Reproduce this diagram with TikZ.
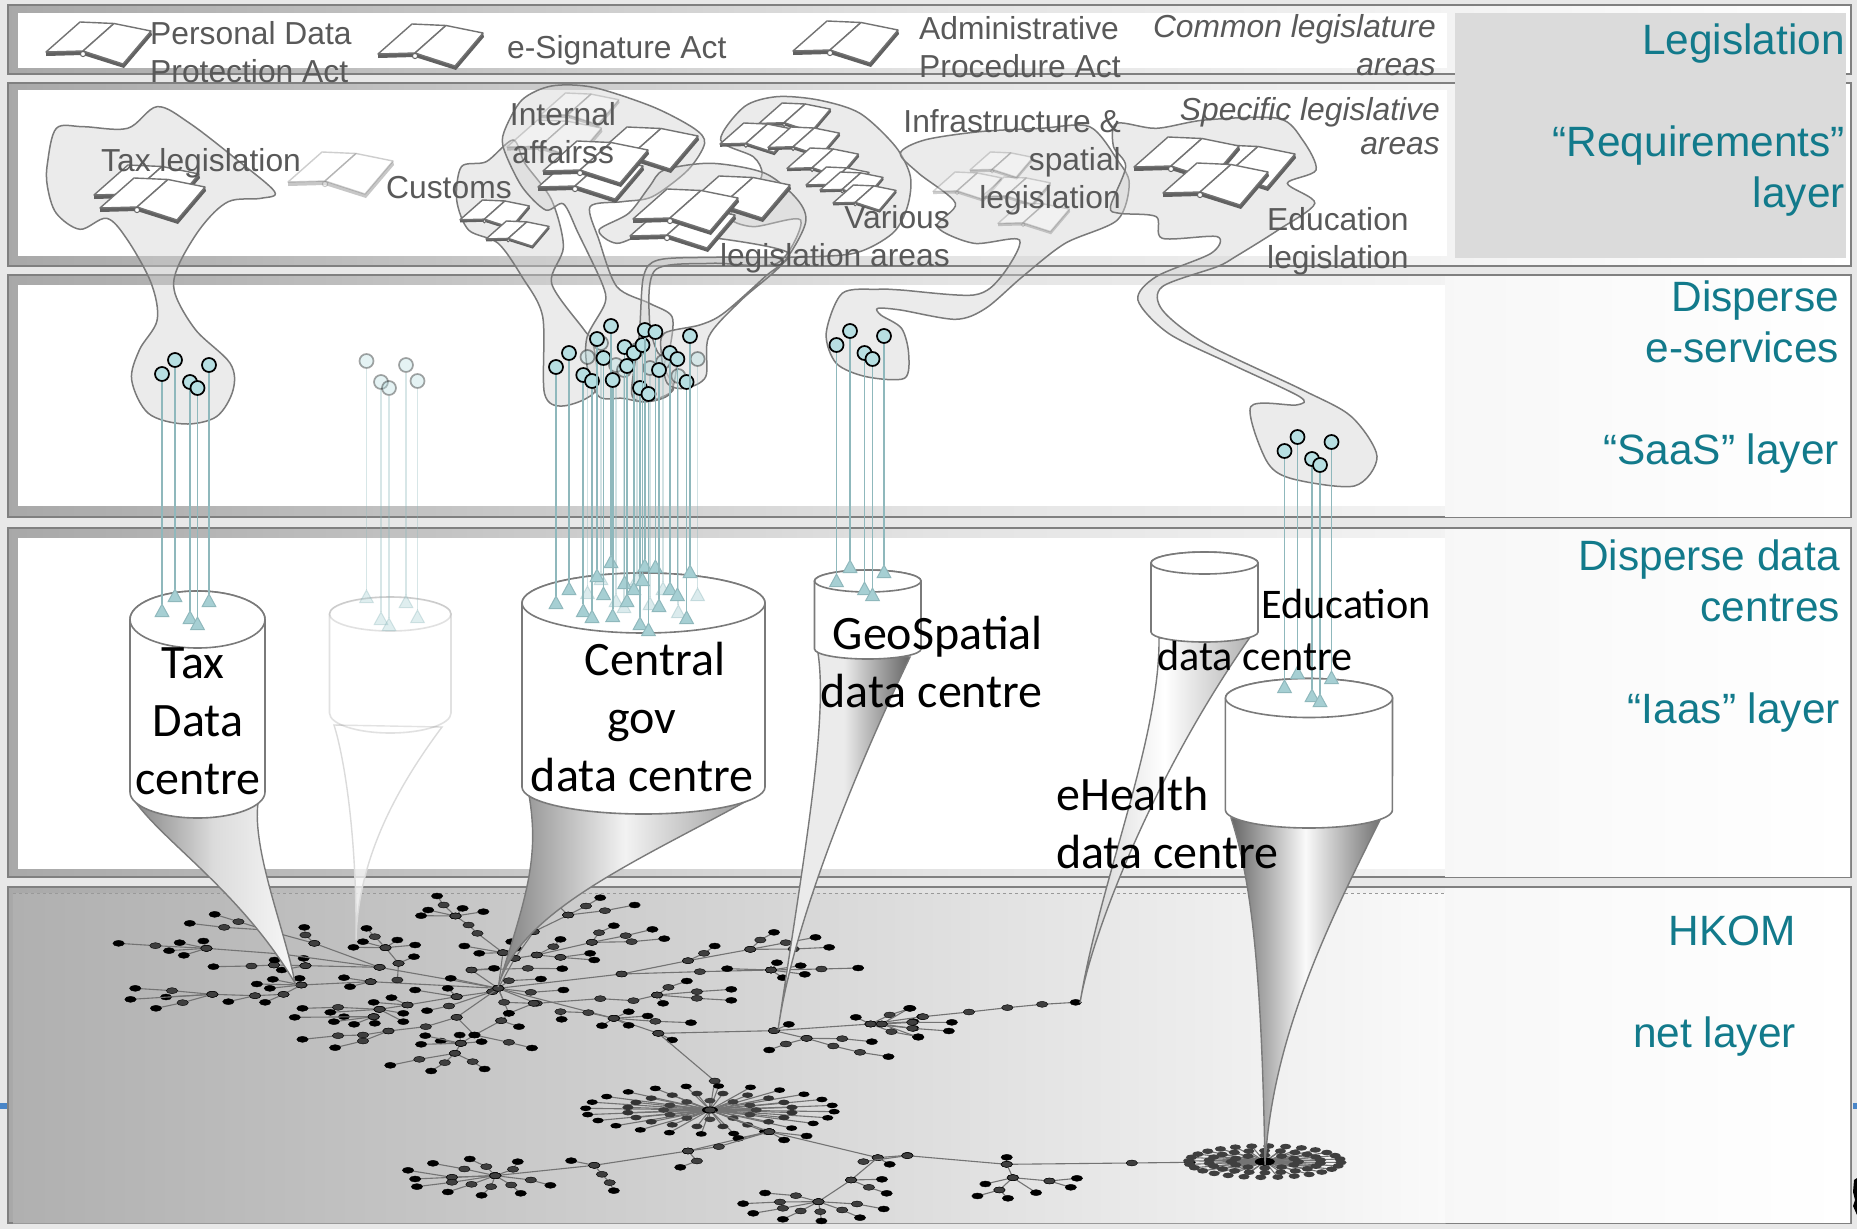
\documentclass[tikz,border=0pt]{standalone}
\usepackage{fontspec}
\setmainfont{Liberation Sans}
\newfontfamily\calib{Carlito}
\usetikzlibrary{arrows.meta}
\definecolor{lblgray}{HTML}{595959}
\definecolor{teallbl}{HTML}{127A8B}
\definecolor{stemcol}{HTML}{8FB8BC}
\definecolor{stemfil}{HTML}{A6CFD3}
\definecolor{svcfil}{HTML}{B7DFE2}
\definecolor{netg}{HTML}{3F3F3F}
\definecolor{markblue}{HTML}{4A86C8}
\tikzset{
  framebox/.style={draw=black!50,line width=2pt,left color=black!34,right color=white,middle color=black!11},
  innerwhite/.style={fill=white,draw=none},
  blob/.style={draw=black!52,line width=1.5pt,fill=black!18,fill opacity=.42},
  cyl/.style={draw=black!52,line width=1.6pt,fill=white},
  funnel/.style={draw=black!52,line width=1.4pt},
  svc/.style={circle,minimum size=14pt,inner sep=0pt,draw=black,line width=1.7pt,fill=svcfil},
  stemline/.style={draw=stemcol,line width=1.7pt,-{Triangle[reversed,width=15pt,length=14pt,fill=stemfil,color=stemcol,line width=1pt]}},
  grlbl/.style={text=lblgray,inner sep=0pt,font=\fontsize{31.8}{38}\selectfont},
  tllbl/.style={text=teallbl,inner sep=0pt,align=right,anchor=north east,font=\fontsize{42.4}{51}\selectfont},
  bklbl/.style={text=black,inner sep=0pt,font=\calib\fontsize{48}{58}\selectfont},
  netedge/.style={draw=black!55,line width=1.1pt},
  zone/.style={x=.5931pt,y=-.3333pt},
  ztwo/.style={x=.61pt,y=-.3333pt,shift={(900pt,0pt)}},
  zthree/.style={x=.5931pt,y=-.3333pt,shift={(0pt,-880pt)}},
  zfour/.style={x=.61pt,y=-.3333pt,shift={(900pt,-880pt)}},
  bookicon/.pic={
    \fill[black!62] (0,30)--(37,29)--(77,42)--(105,9)--(106,13)--(78,46)--(37,33)--(0,34)--cycle;
    \draw[draw=black!55,line width=1.4pt,fill=white,line join=round] (0,30)--(34,0)--(68,1.5)--(37,29)--cycle;
    \draw[draw=black!55,line width=1.4pt,fill=white,line join=round] (37,29)--(68,1.5)--(105,9)--(77,42)--cycle;
    \draw[draw=black!60,line width=1pt,fill=white] (37,32) circle[radius=2.6pt];
  }
}
\newcommand\chain[2]{\draw[netedge] plot coordinates {#1 #2};
  \path plot[only marks,mark=*,mark size=3pt,mark options={xscale=1.9,fill=netg,draw=none}] coordinates {#1};
  \path plot[only marks,mark=*,mark size=3pt,mark options={xscale=1.9,fill=black,draw=none}] coordinates {#2};}
\newcommand\ringstar[7]{\foreach \i in {1,...,#5}{\pgfmathsetmacro\aang{360*\i/#5+#6}
  \draw[netedge] (#1,#2) -- ({#1+#3*cos(\aang)},{#2+#4*sin(\aang)});
  \fill[#7] ({#1+#3*cos(\aang)},{#2+#4*sin(\aang)}) ellipse[x radius=5.6pt,y radius=2.8pt];}}
\begin{document}
\begin{tikzpicture}[x=1pt,y=-1pt]
\useasboundingbox (0,0) rectangle (1857,1229);
\fill[black!9] (0,0) rectangle (1857,1229);
% side marks
\fill[markblue] (0,1103) rectangle (8,1109);
\fill[markblue] (1853,1103) rectangle (1857,1109);
% frames
\draw[framebox] (8,5) rectangle (1851,74);
\draw[framebox] (8,83) rectangle (1851,266);
\draw[framebox] (8,275) rectangle (1851,517);
\draw[framebox] (8,528) rectangle (1851,877);
\draw[framebox] (8,887) rectangle (1851,1223);
\fill[black] (1857,1178) -- (1854,1180) -- (1853,1192) -- (1855,1200) -- (1853,1206) -- (1857,1215) -- cycle;
\fill[innerwhite] (18,13) rectangle (1447,68);
\fill[innerwhite] (18,90) rectangle (1447,256);
\fill[innerwhite] (18,285) rectangle (1445,506);
\fill[innerwhite] (18,538) rectangle (1445,869);
\shade[left color=black!31,right color=black!2,middle color=black!17] (13,893) rectangle (1445,1223);
\draw[black!40,dashed,line width=.8pt] (13,893) -- (1445,893);
\draw[black!40,line width=1pt] (13,1223) -- (1445,1223);
\shade[left color=black!3,right color=white] (1445,276) rectangle (1850,516);
\shade[left color=black!3,right color=white] (1445,529) rectangle (1850,876);
\shade[left color=black!3,right color=white] (1445,888) rectangle (1850,1222);
\fill[black!14] (1455,13) rectangle (1846,258);
% network
\begin{scope}[zthree]
\chain{(840,325) (640,262) (530,190) (448,150) (378,142)}{(320,130)}
\chain{(448,150) (402,125)}{(362,103)}
\chain{(448,150) (447,118)}{(440,95)}
\chain{(530,190) (515,165)}{(513,142)}
\chain{(640,262) (515,257) (462,255) (424,258)}{(360,260)}
\chain{(515,257)}{(512,235)}
\chain{(462,255)}{(463,240)}
\chain{(515,257)}{(475,270)}
\chain{(640,262) (475,222) (348,205) (262,197)}{(200,190)}
\chain{(348,205)}{(343,183)}
\chain{(348,205)}{(303,188)}
\chain{(348,205)}{(285,212)}
\chain{(348,205)}{(310,226)}
\chain{(840,325) (625,305) (508,315)}{(505,295)}
\chain{(508,315)}{(460,298)}
\chain{(508,315)}{(433,312)}
\chain{(508,315)}{(455,325)}
\chain{(508,315) (478,343) (430,347) (358,343) (290,332)}{(228,325)}
\chain{(358,343)}{(280,351)}
\chain{(358,343)}{(220,358)}
\chain{(358,343) (308,368)}{(263,385)}
\chain{(430,347)}{(385,365)}
\chain{(478,343)}{(447,367)}
\chain{(625,305)}{(580,293)}
\chain{(625,305)}{(590,320)}
\chain{(670,300) (672,250) (650,203) (632,170)}{(618,145)}
\chain{(650,203)}{(612,185)}
\chain{(650,203)}{(596,202)}
\chain{(650,203)}{(670,180)}
\chain{(650,203)}{(700,195)}
\chain{(672,250)}{(698,230)}
\chain{(840,325) (795,270) (890,265)}{(948,266)}
\chain{(795,270)}{(833,265)}
\chain{(840,325) (848,218) (805,160) (790,135) (768,108)}{(722,90)}
\chain{(768,108)}{(710,107)}
\chain{(768,108) (748,75)}{(737,48)}
\chain{(768,108)}{(780,85)}
\chain{(768,108)}{(815,95)}
\chain{(848,218)}{(808,220)}
\chain{(848,218)}{(783,198)}
\chain{(848,218)}{(870,205)}
\chain{(840,325) (868,235) (900,155) (958,105) (988,78)}{(1012,53)}
\chain{(958,105)}{(940,75)}
\chain{(958,105) (1020,92)}{(1070,75)}
\chain{(900,155)}{(903,130)}
\chain{(868,235)}{(862,185)}
\chain{(868,235) (905,225) (998,187) (1010,158)}{(1035,137)}
\chain{(998,187) (1055,167)}{(1100,148)}
\chain{(998,187) (1065,185)}{(1120,176)}
\chain{(905,225) (945,232)}{(995,220)}
\chain{(945,232)}{(1002,240)}
\chain{(905,225) (933,200)}{(945,178)}
\chain{(840,325) (1048,282) (1160,242) (1265,208) (1282,180)}{(1305,157)}
\chain{(1265,208) (1325,188)}{(1375,172)}
\chain{(1265,208) (1338,207)}{(1398,202)}
\chain{(1160,242) (1187,220)}{(1205,198)}
\chain{(1048,282) (1180,275) (1300,270)}{(1226,266)}
\chain{(1300,270)}{(1310,248)}
\chain{(1300,270)}{(1350,257)}
\chain{(1300,270) (1385,267)}{(1447,264)}
\chain{(1300,270)}{(1357,283)}
\chain{(1300,270)}{(1320,293)}
\chain{(840,325) (858,302)}{(912,297)}
\chain{(840,325) (895,337)}{(950,330)}
\chain{(840,325) (905,370) (1012,356) (1068,362) (1108,345) (1127,322)}{(1158,303)}
\chain{(1108,345) (1175,335)}{(1233,328)}
\chain{(1108,345) (1175,355)}{(1233,361)}
\chain{(1108,345)}{(1118,370)}
\chain{(840,325) (1035,415) (1110,460)}{(1133,480)}
\chain{(1035,415)}{(1060,395)}
\chain{(1035,415)}{(1092,408)}
\chain{(1035,415) (1105,424)}{(1165,428)}
\chain{(1035,415)}{(1060,436)}
\chain{(1035,415)}{(1015,437)}
\chain{(1035,415) (992,398) (945,395)}{(947,418)}
\chain{(1110,460) (1205,603)}{(1197,690)}
\chain{(1110,460) (1305,452)}{(1330,433)}
\chain{(1305,452) (1360,475) (1405,498) (1450,517)}{(1498,530)}
\chain{(1360,475) (1420,476)}{(1470,485)}
\chain{(1360,475) (1325,492)}{(1297,510)}
\chain{(1305,452) (1468,432)}{(1443,412)}
\chain{(1468,432) (1500,405)}{(1535,385)}
\chain{(1468,432)}{(1555,410)}
\chain{(1468,432)}{(1540,425)}
\chain{(1468,432)}{(1540,445)}
\chain{(1468,432) (1503,455)}{(1548,470)}
\chain{(840,325) (830,335) (770,350) (687,375) (640,388) (570,382)}{(510,385)}
\chain{(640,388)}{(557,397)}
\chain{(640,388) (630,410)}{(580,410)}
\chain{(630,410)}{(563,425)}
\chain{(630,410)}{(597,433)}
\chain{(630,410)}{(497,412)}
\chain{(630,410)}{(632,430)}
\chain{(640,388)}{(680,400)}
\chain{(687,375)}{(660,353)}
\chain{(687,375)}{(630,367)}
\chain{(640,388)}{(680,425)}
\chain{(770,350)}{(700,330)}
\chain{(770,350)}{(755,325)}
\chain{(840,325)}{(760,295)}
\chain{(830,335) (757,378)}{(720,392)}
\chain{(840,325) (770,412) (718,440) (655,453) (612,465) (570,467)}{(510,478)}
\chain{(655,453) (612,483)}{(565,503)}
\chain{(770,412) (800,465) (777,490) (767,520) (707,538)}{(658,556)}
\chain{(767,520) (750,548)}{(727,573)}
\chain{(767,520) (797,545)}{(817,567)}
\chain{(777,490)}{(743,483)}
\chain{(777,490)}{(710,493)}
\chain{(777,490)}{(717,467)}
\chain{(777,490)}{(775,465)}
\chain{(777,490)}{(812,485)}
\chain{(800,465) (858,487)}{(897,504)}
\chain{(840,325) (858,400) (845,422)}{(800,465)}
\chain{(845,422)}{(875,440)}
\chain{(840,325) (850,367)}{(900,370)}
\chain{(900,370)}{(858,400)}
% star 2
\ringstar{1197}{690}{210}{72}{24}{4}{black}
\ringstar{1197}{690}{140}{50}{20}{9}{black!80}
\ringstar{1197}{690}{78}{28}{12}{0}{netg}
\fill[black] (1197,690) ellipse[x radius=8pt,y radius=3.5pt];
\chain{(1197,690) (1297,755) (1160,813) (1002,856)}{(835,887)}
\chain{(1297,755)}{(1360,768)}
\chain{(1297,755)}{(1322,780)}
\chain{(1297,755)}{(1245,775)}
\chain{(1297,755) (1212,800)}{(1160,813)}
\chain{(1002,856)}{(963,842)}
\chain{(1002,856) (1015,883) (1028,908)}{(1035,932)}
\chain{(1160,813) (1175,843)}{(1147,862)}
\chain{(1297,755) (1480,833)}{(1530,826)}
\chain{(1480,833)}{(1500,853)}
\chain{(1480,833) (1435,900)}{(1487,898)}
\chain{(1435,900) (1465,922)}{(1495,940)}
\chain{(1435,900) (1380,965) (1342,947)}{(1290,939)}
\chain{(1380,965) (1315,966)}{(1253,971)}
\chain{(1380,965) (1320,985)}{(1270,1000)}
\chain{(1380,965) (1350,993)}{(1320,1018)}
\chain{(1380,965) (1383,995)}{(1385,1023)}
\chain{(1380,965) (1420,990)}{(1450,1013)}
\chain{(1380,965) (1445,972)}{(1490,987)}
\chain{(835,887) (820,860)}{(792,837)}
\chain{(835,887) (865,868)}{(873,845)}
\chain{(835,887) (783,867)}{(730,850)}
\chain{(835,887) (762,892)}{(688,871)}
\chain{(835,887) (762,892)}{(700,897)}
\chain{(835,887) (762,907)}{(703,920)}
\chain{(835,887) (795,913)}{(755,936)}
\chain{(835,887) (828,920)}{(812,946)}
\chain{(835,887) (862,915)}{(878,940)}
\chain{(835,887) (895,900)}{(928,916)}
\end{scope}
\begin{scope}[zfour]
\chain{(38,410) (113,396) (176,383) (233,373)}{(288,367)}
\chain{(-30,432)}{(15,385)}
\chain{(-30,432) (20,427)}{(85,427)}
\chain{(-30,432) (20,445)}{(80,453)}
\chain{(-30,432)}{(30,472)}
\chain{(-60,845)}{(12,827)}
\chain{(12,827) (175,853) (380,849)}{(475,847)}
\chain{(175,853)}{(175,832)}
\chain{(175,853) (185,893)}{(140,912)}
\chain{(185,893) (163,930)}{(127,948)}
\chain{(163,930)}{(177,955)}
\chain{(185,893)}{(223,938)}
\chain{(185,893) (245,903)}{(290,895)}
\chain{(245,903)}{(280,922)}
\ringstar{598}{845}{125}{47}{28}{3}{netg}
\ringstar{598}{845}{92}{33}{22}{8}{netg}
\ringstar{598}{845}{55}{19}{12}{0}{netg}
\fill[black] (598,845) ellipse[x radius=10pt,y radius=4pt];
\end{scope}
% funnels
\draw[funnel,draw=black!14,fill=white,fill opacity=.7] (334,725) .. controls (345,760) and (357,840) .. (356,940) .. controls (358,860) and (395,790) .. (442,727) -- cycle;
\shade[funnel,left color=black!48,right color=black!3,middle color=black!14] (132,797) .. controls (160,840) and (240,890) .. (295,983) .. controls (285,930) and (252,850) .. (258,803) -- cycle;
\shade[funnel,left color=black!50,right color=black!40,middle color=black!5] (529,795) .. controls (540,860) and (525,900) .. (498,987) .. controls (520,910) and (640,860) .. (752,798) -- cycle;
\shade[funnel,left color=black!8,right color=black!60,middle color=black!8] (818,653) .. controls (828,720) and (805,850) .. (778,1030) .. controls (795,910) and (870,740) .. (910,657) -- cycle;
\shade[funnel,left color=black!18,right color=black!30,middle color=white] (1159,638) .. controls (1160,740) and (1100,880) .. (1080,1003) .. controls (1090,940) and (1150,780) .. (1249.5,638) -- cycle;
\shade[funnel,left color=black!60,right color=black!55,middle color=black!2] (1231,818) .. controls (1255,890) and (1262,1000) .. (1265,1165) .. controls (1272,1040) and (1325,930) .. (1380,820) -- cycle;
% cylinders
\begin{scope}[opacity=.22]
\draw[cyl] (329.5,614) -- (329.5,713) arc[start angle=180,end angle=360,x radius=60.75pt,y radius=20pt] -- (451,614) arc[start angle=0,end angle=180,x radius=60.75pt,y radius=17pt];
\draw[cyl] (390.25,614) ellipse[x radius=60.75pt,y radius=17pt];
\end{scope}
\draw[cyl] (130,619.5) -- (130,792) arc[start angle=180,end angle=360,x radius=67.5pt,y radius=26pt] -- (265,619.5) arc[start angle=0,end angle=180,x radius=67.5pt,y radius=28.5pt];
\draw[cyl] (197.5,619.5) ellipse[x radius=67.5pt,y radius=28.5pt];
\draw[cyl] (522,603) -- (522,787) arc[start angle=180,end angle=360,x radius=121.5pt,y radius=27pt] -- (765,603) arc[start angle=0,end angle=180,x radius=121.5pt,y radius=30pt];
\draw[cyl] (643.5,603) ellipse[x radius=121.5pt,y radius=30pt];
\draw[cyl] (814.5,581) -- (814.5,649) arc[start angle=180,end angle=360,x radius=53.25pt,y radius=10pt] -- (921,581) arc[start angle=0,end angle=180,x radius=53.25pt,y radius=11pt];
\draw[cyl] (867.75,581) ellipse[x radius=53.25pt,y radius=11pt];
\draw[cyl] (1151,563) -- (1151,632) arc[start angle=180,end angle=360,x radius=53.5pt,y radius=10pt] -- (1258,563) arc[start angle=0,end angle=180,x radius=53.5pt,y radius=11pt];
\draw[cyl] (1204.5,563) ellipse[x radius=53.5pt,y radius=11pt];
\draw[cyl] (1225.4,698) -- (1225.4,810) arc[start angle=180,end angle=360,x radius=83.5pt,y radius=18pt] -- (1392.5,698) arc[start angle=0,end angle=180,x radius=83.5pt,y radius=19.5pt];
\draw[cyl] (1309,698) ellipse[x radius=83.5pt,y radius=19.5pt];
% blobs
\begin{scope}[zone]
\draw[blob] plot[smooth cycle,tension=.55] coordinates {(80,490) (95,385) (140,380) (215,385) (265,320) (320,370) (400,480) (463,575) (440,595) (385,605) (340,680) (300,800) (295,880) (330,990) (388,1090) (393,1170) (365,1250) (310,1272) (250,1240) (222,1140) (235,1050) (265,960) (255,850) (215,720) (180,655) (135,688) (95,640) (80,560)};
\draw[blob] plot[smooth cycle,tension=.5] coordinates {(770,600) (778,500) (820,485) (865,420) (885,490) (930,600) (950,740) (930,850) (985,990) (1000,1030) (1005,1170) (950,1218) (918,1180) (915,950) (880,830) (840,730) (790,690)};
\draw[blob] plot[smooth cycle,tension=.5] coordinates {(850,395) (880,300) (930,258) (1000,262) (1100,320) (1170,385) (1188,430) (1160,510) (1100,590) (1050,605) (995,620) (1010,720) (1040,860) (1095,910) (1133,950) (1130,1040) (1120,1100) (1135,1170) (1090,1205) (1050,1195) (1010,1190) (990,1100) (990,1010) (1020,910) (1015,850) (975,700) (950,612) (920,630) (880,560) (850,450)};
\draw[blob] plot[smooth cycle,tension=.5] coordinates {(1215,420) (1255,320) (1310,290) (1380,300) (1450,340) (1510,440) (1535,530) (1530,620) (1505,700) (1440,760) (1330,772) (1200,772) (1110,780) (1085,830) (1078,1000) (1065,1180) (1090,1205) (1130,1180) (1140,1080) (1110,1060) (1095,960) (1105,810) (1200,790) (1310,790) (1350,660) (1270,680) (1230,650) (1270,570) (1285,520) (1270,470)};
\draw[blob] plot[smooth cycle,tension=.5] coordinates {(1010,690) (1060,640) (1095,560) (1120,510) (1200,490) (1290,520) (1345,600) (1358,670) (1320,790) (1250,900) (1195,1010) (1190,1130) (1155,1165) (1125,1150) (1115,1060) (1120,1000) (1180,975) (1220,940) (1290,830) (1330,760) (1230,720) (1100,700) (1040,730)};
\draw[blob] plot[smooth cycle,tension=.5] coordinates {(1393,1000) (1420,880) (1480,868) (1518,870) (1642,885) (1688,830) (1719,720) (1642,730) (1580,680) (1611,610) (1549,520) (1518,460) (1559,420) (1652,395) (1755,385) (1837,380) (1884,480) (1904,550) (1884,660) (1796,730) (1724,830) (1662,925) (1611,958) (1518,930) (1480,925) (1485,945) (1520,985) (1532,1060) (1525,1135) (1460,1130) (1410,1090)};
\end{scope}
\begin{scope}[ztwo]
\draw[blob] plot[smooth cycle,tension=.5] coordinates {(355,370) (420,385) (500,360) (620,355) (660,420) (682,510) (635,550) (680,610) (620,690) (550,770) (520,800) (430,860) (430,930) (500,1030) (660,1170) (740,1250) (782,1370) (745,1458) (640,1435) (600,1380) (575,1220) (650,1215) (655,1190) (540,1090) (440,1000) (390,900) (420,830) (510,760) (520,710) (430,715) (420,650) (360,640) (345,620) (370,500) (350,440)};
\end{scope}
% books
\pic at (46,22) {bookicon};
\pic at (378,24) {bookicon};
\pic at (793,21) {bookicon};
\pic at (94,165) {bookicon};
\pic at (100,178) {bookicon};
\pic[opacity=.35] at (288,152) {bookicon};
\pic[opacity=.3,scale=.75] at (540,93) {bookicon};
\pic[opacity=.3,scale=.9] at (507,120) {bookicon};
\pic at (593,127) {bookicon};
\pic at (538,157) {bookicon};
\pic at (543,141) {bookicon};
\pic at (685,176) {bookicon};
\pic at (630,206) {bookicon};
\pic at (633,189) {bookicon};
\pic[scale=.66] at (460,200) {bookicon};
\pic[scale=.6] at (486,221) {bookicon};
\pic[scale=.68] at (759,103) {bookicon};
\pic[scale=.7] at (720,123) {bookicon};
\pic[scale=.68] at (768,127) {bookicon};
\pic[scale=.68] at (787,148) {bookicon};
\pic[scale=.6] at (806,167) {bookicon};
\pic[scale=.6] at (820,172) {bookicon};
\pic[scale=.6] at (833,185) {bookicon};
\pic[opacity=.3,scale=.6] at (970,152) {bookicon};
\pic[opacity=.3,scale=.65] at (933,172) {bookicon};
\pic[opacity=.3,scale=.65] at (982,177) {bookicon};
\pic[opacity=.3,scale=.68] at (998,203) {bookicon};
\pic at (1190,145) {bookicon};
\pic at (1134,137) {bookicon};
\pic at (1163,163) {bookicon};
% services and stems
\foreach \n/\x/\t/\b/\o in {
  a1/162/374/617/1,a2/175/360/602/1,a3/190/382/624/1,a5/209/365/607/1,a4/197.5/388/630/1,
  b1/366.5/361/603/.35,b2/381/382/625/.35,b3/389/388/631/.35,b4/406/365/608/.35,b5/417.5/381/623/.35,
  d1/836.5/345/587/1,d2/850/331/573/1,d3/864.5/353/595/1,d5/884/336/578/1,d4/872.5/359/601/1,
  e1/1284.5/451/693/1,e2/1297.5/437/679/1,e3/1312/459/702/1,e5/1331.5/442/684/1,e4/1320/465/707/1,
  c01/587.5/357/599/.4,c02/601/343/585/.4,c03/616/365/607/.4,c04/624/370/613/.4,c05/637/350/585/.4,c06/650/368/610/.4,c07/663/362/595/.4,c08/678.3/376/618/.4,c09/697.6/359/601/.4,
  c10/556/367/609/1,c11/569/353/595/1,c12/583.3/375/617/1,c13/592/381/623/1,c14/597/339/582/1,c15/603.5/358/600/1,c16/611/326/568/1,c17/612.7/380/622/1,c18/624.6/347/589/1,c19/627/366/607/1,c20/633.8/353/595/1,c21/640/388/630/1,c22/642.5/345/586/1,c23/644.8/330/572/1,c24/648.5/394/636/1,c25/655.4/332/573/1,c26/659/370/612/1,c27/670/353/595/1,c28/677.4/359/601/1,c29/686.6/382/624/1,c30/690/336/578/1}{
  \coordinate (tip\n) at (\x,\b);
  \node[svc,opacity=\o] (svc\n) at (\x,\t) {};
  \draw[stemline,opacity=\o] (svc\n) -- (tip\n);
}
% grey labels
\node[grlbl,anchor=north west,align=left] (lpda) at (150,21) {Personal Data\\Protection Act};
\node[grlbl,anchor=west] (lesa) at (507,50.5) {e-Signature Act};
\node[grlbl,anchor=north west,align=left] (lapa) at (919,16) {Administrative\\Procedure Act};
\node[grlbl,anchor=north east,align=right,font=\itshape\fontsize{31.8}{38}\selectfont] (lcom) at (1436,14) {Common legislature\\areas};
\node[grlbl,anchor=north east,align=right,font=\itshape\fontsize{31.8}{34}\selectfont] (lspe) at (1440,97) {Specific legislative\\areas};
\node[grlbl,anchor=west] (ltax) at (101,163.5) {Tax legislation};
\node[grlbl,anchor=west] (lcus) at (386,188) {Customs};
\node[grlbl,anchor=north,align=center] (lint) at (563,102) {Internal\\affairss};
\node[grlbl,anchor=north east,align=right] (lvar) at (950,205) {Various\\legislation areas};
\node[grlbl,anchor=north east,align=right] (linf) at (1121,109) {Infrastructure \&\\spatial\\legislation};
\node[grlbl,anchor=north west,align=left] (ledu) at (1267,207) {Education\\legislation};
% teal labels
\node[tllbl] (t1) at (1845,24) {Legislation\\ \\“Requirements”\\layer};
\node[tllbl] (t2) at (1839,281) {Disperse\\e-services\\ \\“SaaS” layer};
\node[tllbl] (t3) at (1840,540) {Disperse data\\centres\\ \\“Iaas” layer};
\node[tllbl] (t4) at (1796,916) {HKOM\\ \\net layer};
% black labels
\node[bklbl,anchor=north,align=center] (k1) at (198,647) {Tax\hspace*{10pt}\\Data\\centre};
\node[bklbl,anchor=north,align=center] (k2) at (642,642) {\hspace*{26pt}Central\\gov\\data centre};
\node[bklbl,anchor=north east,align=right] (k3) at (1043,616) {GeoSpatial\\data centre};
\node[bklbl,anchor=north west,align=left,font=\calib\fontsize{42.2}{52}\selectfont] (k4) at (1157,589) {\hspace*{104pt}Education\\data centre};
\node[bklbl,anchor=north west,align=left] (k5) at (1056,777) {eHealth\\data centre};
\end{tikzpicture}
\end{document}
